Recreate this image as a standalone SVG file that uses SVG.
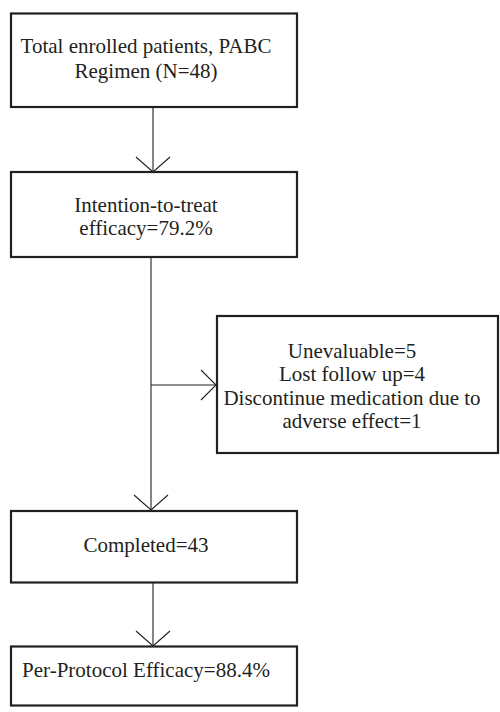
<svg xmlns="http://www.w3.org/2000/svg" width="500" height="712" viewBox="0 0 500 712">
<style>
.box{fill:#fff;stroke:#231f20;stroke-width:2.2}
.t{font-family:'Liberation Serif','Times New Roman',Times,'DejaVu Serif',serif;font-size:21px;fill:#231f20;text-anchor:middle}
.ln{fill:none;stroke:#231f20;stroke-width:1.1}
</style>
<rect width="500" height="712" fill="#fff"/>
<g id="connectors">
<line class="ln" x1="153" y1="107" x2="153" y2="172"/>
<polyline class="ln" points="136,157 153,172 170,157"/>
<line class="ln" x1="151" y1="257" x2="151" y2="511"/>
<polyline class="ln" points="134,495 151,510 168,495"/>
<line class="ln" x1="151" y1="385" x2="217" y2="385"/>
<polyline class="ln" points="201,370 216,385 201,400"/>
<line class="ln" x1="153" y1="582" x2="153" y2="646"/>
<polyline class="ln" points="136,631 153,646 170,631"/>
</g>
<g id="enrolled">
<rect class="box" x="11" y="13.5" width="286" height="93.5"/>
<text class="t" x="146" y="53" font-family="Liberation Serif, serif">Total enrolled patients, PABC</text>
<text class="t" x="146" y="78" font-family="Liberation Serif, serif">Regimen (N=48)</text>
</g>
<g id="itt">
<rect class="box" x="11" y="172" width="286" height="85"/>
<text class="t" x="146" y="212">Intention-to-treat</text>
<text class="t" x="146" y="235">efficacy=79.2%</text>
</g>
<g id="excluded">
<rect class="box" x="217" y="316" width="281" height="137"/>
<text class="t" x="352" y="358">Unevaluable=5</text>
<text class="t" x="352" y="381">Lost follow up=4</text>
<text class="t" x="352" y="405">Discontinue medication due to</text>
<text class="t" x="352" y="428">adverse effect=1</text>
</g>
<g id="completed">
<rect class="box" x="11" y="511" width="286" height="71.5"/>
<text class="t" x="146" y="552">Completed=43</text>
</g>
<g id="pp">
<rect class="box" x="11" y="646.5" width="286" height="59"/>
<text class="t" x="146" y="677">Per-Protocol Efficacy=88.4%</text>
</g>
</svg>
